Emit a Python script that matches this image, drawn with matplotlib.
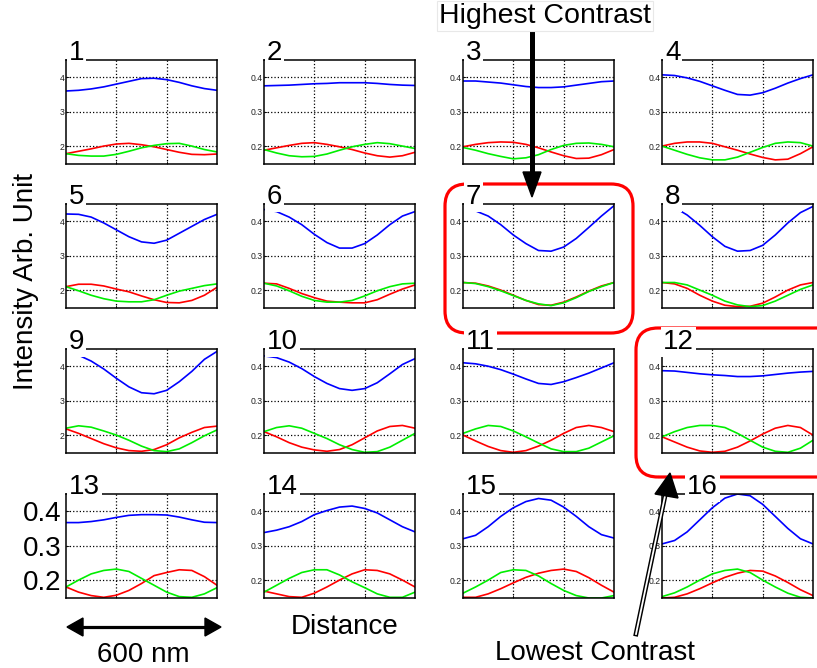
import matplotlib
matplotlib.use("Agg")
import matplotlib.pyplot as plt
import numpy as np
from matplotlib.patches import FancyBboxPatch, Polygon
from matplotlib.lines import Line2D

plt.rcParams['font.family'] = ['Liberation Sans', 'DejaVu Sans']

W, H = 817, 668
nan = np.nan

# sample positions across the 600 nm window (grid lines at 4 and 8)
xpos = np.arange(13)
panel_ids = list(range(1, 17))
yticks = [0.2, 0.3, 0.4]
tick_labels = ["0.2", "0.3", "0.4"]
cut_labels = ["2", "3", "4"]       # panels 1, 5, 9 show clipped labels

blue = [
    [0.360, 0.362, 0.366, 0.372, 0.380, 0.388, 0.396, 0.397, 0.393, 0.385, 0.375, 0.367, 0.362],
    [0.375, 0.376, 0.377, 0.379, 0.381, 0.382, 0.384, 0.384, 0.384, 0.382, 0.379, 0.377, 0.376],
    [0.389, 0.389, 0.386, 0.383, 0.378, 0.373, 0.370, 0.370, 0.372, 0.377, 0.382, 0.387, 0.389],
    [0.407, 0.405, 0.398, 0.388, 0.375, 0.362, 0.350, 0.348, 0.355, 0.368, 0.383, 0.396, 0.407],
    [0.421, 0.420, 0.412, 0.395, 0.375, 0.355, 0.340, 0.336, 0.345, 0.365, 0.385, 0.405, 0.420],
    [0.434, 0.428, 0.412, 0.390, 0.362, 0.338, 0.322, 0.322, 0.335, 0.360, 0.390, 0.415, 0.428],
    [nan,   0.430, 0.415, 0.390, 0.360, 0.335, 0.315, 0.313, 0.325, 0.350, 0.382, 0.415, 0.445],
    [nan,   0.440, 0.418, 0.388, 0.355, 0.327, 0.313, 0.315, 0.330, 0.360, 0.395, 0.425, 0.443],
    [nan,   0.432, 0.415, 0.392, 0.365, 0.340, 0.323, 0.320, 0.330, 0.355, 0.385, 0.420, 0.443],
    [0.430, 0.425, 0.412, 0.393, 0.370, 0.350, 0.335, 0.330, 0.335, 0.352, 0.378, 0.405, 0.422],
    [0.410, 0.407, 0.400, 0.390, 0.377, 0.363, 0.350, 0.347, 0.355, 0.367, 0.380, 0.395, 0.410],
    [0.387, 0.386, 0.382, 0.378, 0.375, 0.373, 0.370, 0.370, 0.372, 0.376, 0.380, 0.383, 0.385],
    [0.367, 0.367, 0.370, 0.375, 0.382, 0.388, 0.390, 0.390, 0.389, 0.383, 0.375, 0.368, 0.367],
    [0.338, 0.345, 0.355, 0.370, 0.390, 0.402, 0.412, 0.415, 0.408, 0.395, 0.375, 0.355, 0.340],
    [0.320, 0.330, 0.355, 0.385, 0.410, 0.428, 0.437, 0.432, 0.412, 0.385, 0.355, 0.332, 0.322],
    [0.305, 0.315, 0.340, 0.375, 0.410, 0.438, 0.450, 0.445, 0.420, 0.385, 0.350, 0.320, 0.305],
]

red = [
    [0.178, 0.185, 0.192, 0.200, 0.206, 0.208, 0.204, 0.198, 0.190, 0.182, 0.176, 0.175, 0.177],
    [0.188, 0.195, 0.202, 0.208, 0.210, 0.205, 0.198, 0.190, 0.180, 0.172, 0.168, 0.172, 0.182],
    [0.198, 0.205, 0.210, 0.212, 0.211, 0.205, 0.195, 0.183, 0.172, 0.164, 0.165, 0.175, 0.190],
    [0.200, 0.208, 0.212, 0.212, 0.208, 0.198, 0.188, 0.177, 0.167, 0.160, 0.162, 0.178, 0.198],
    [0.210, 0.217, 0.217, 0.212, 0.203, 0.195, 0.183, 0.172, 0.164, 0.163, 0.170, 0.185, 0.208],
    [0.220, 0.218, 0.205, 0.190, 0.178, 0.168, 0.165, 0.163, 0.163, 0.172, 0.188, 0.203, 0.215],
    [0.222, 0.220, 0.212, 0.200, 0.185, 0.170, 0.158, 0.156, 0.165, 0.180, 0.197, 0.212, 0.222],
    [0.222, 0.218, 0.205, 0.185, 0.168, 0.156, 0.152, 0.153, 0.162, 0.180, 0.200, 0.215, 0.222],
    [0.218, 0.205, 0.190, 0.175, 0.163, 0.155, 0.153, 0.158, 0.172, 0.192, 0.208, 0.222, 0.226],
    [0.210, 0.195, 0.178, 0.165, 0.157, 0.153, 0.158, 0.172, 0.192, 0.212, 0.225, 0.228, 0.220],
    [0.200, 0.183, 0.167, 0.155, 0.150, 0.155, 0.168, 0.185, 0.205, 0.222, 0.228, 0.222, 0.210],
    [0.195, 0.180, 0.165, 0.154, 0.150, 0.153, 0.165, 0.183, 0.203, 0.220, 0.228, 0.222, 0.200],
    [0.180, 0.165, 0.155, 0.150, 0.156, 0.170, 0.190, 0.213, 0.222, 0.230, 0.228, 0.210, 0.185],
    [0.168, 0.160, 0.152, 0.150, 0.162, 0.180, 0.200, 0.218, 0.230, 0.228, 0.218, 0.200, 0.180],
    [0.150, 0.150, 0.160, 0.175, 0.192, 0.208, 0.220, 0.228, 0.232, 0.225, 0.207, 0.185, 0.165],
    [0.148, 0.150, 0.160, 0.175, 0.192, 0.208, 0.220, 0.228, 0.226, 0.212, 0.193, 0.172, 0.155],
]

green = [
    [0.178, 0.173, 0.171, 0.171, 0.176, 0.185, 0.195, 0.202, 0.207, 0.208, 0.200, 0.190, 0.183],
    [0.190, 0.180, 0.172, 0.169, 0.170, 0.177, 0.188, 0.198, 0.205, 0.210, 0.207, 0.200, 0.193],
    [0.196, 0.188, 0.178, 0.170, 0.163, 0.166, 0.175, 0.190, 0.202, 0.208, 0.209, 0.205, 0.198],
    [0.200, 0.188, 0.176, 0.166, 0.160, 0.160, 0.168, 0.182, 0.196, 0.208, 0.212, 0.210, 0.200],
    [0.210, 0.198, 0.185, 0.175, 0.168, 0.166, 0.166, 0.172, 0.185, 0.197, 0.205, 0.213, 0.218],
    [0.220, 0.212, 0.198, 0.182, 0.170, 0.165, 0.165, 0.170, 0.183, 0.198, 0.210, 0.218, 0.220],
    [0.222, 0.219, 0.210, 0.198, 0.184, 0.170, 0.160, 0.155, 0.163, 0.178, 0.196, 0.210, 0.222],
    [0.222, 0.222, 0.215, 0.200, 0.185, 0.168, 0.157, 0.152, 0.155, 0.168, 0.185, 0.202, 0.215],
    [0.220, 0.227, 0.223, 0.212, 0.200, 0.185, 0.168, 0.155, 0.152, 0.160, 0.178, 0.198, 0.215],
    [0.210, 0.222, 0.227, 0.220, 0.205, 0.190, 0.172, 0.158, 0.150, 0.152, 0.165, 0.185, 0.205],
    [0.205, 0.218, 0.228, 0.225, 0.212, 0.195, 0.177, 0.160, 0.152, 0.152, 0.162, 0.180, 0.198],
    [0.195, 0.210, 0.222, 0.228, 0.228, 0.222, 0.205, 0.185, 0.165, 0.153, 0.150, 0.162, 0.185],
    [0.180, 0.200, 0.218, 0.228, 0.232, 0.225, 0.205, 0.185, 0.165, 0.152, 0.150, 0.160, 0.178],
    [0.165, 0.185, 0.205, 0.222, 0.230, 0.230, 0.215, 0.195, 0.178, 0.160, 0.150, 0.150, 0.165],
    [0.162, 0.180, 0.200, 0.222, 0.230, 0.228, 0.212, 0.190, 0.170, 0.155, 0.148, 0.148, 0.155],
    [0.152, 0.163, 0.180, 0.200, 0.218, 0.228, 0.232, 0.222, 0.200, 0.180, 0.162, 0.150, 0.148],
]

# layout in pixels of the 817x668 picture
col_left = [66, 264, 463, 662]
row_top = [60, 204, 349, 494]
AX_W, AX_H = 151, 104


def P(x, y):
    # pixel (from top-left) -> inches for fig.dpi_scale_trans
    return (x / 100.0, (H - y) / 100.0)


fig = plt.figure(figsize=(W / 100, H / 100), dpi=100)
T = fig.dpi_scale_trans

for i, n in enumerate(panel_ids):
    r, c = divmod(i, 4)
    l, t = col_left[c], row_top[r]
    ax = fig.add_axes([l / W, 1 - (t + AX_H) / H, AX_W / W, AX_H / H])
    ax.plot(xpos, blue[i], color="#0000ff", lw=1.2)
    ax.plot(xpos, red[i], color="#ff0000", lw=1.2)
    ax.plot(xpos, green[i], color="#00ee00", lw=1.2)
    ax.set_xlim(0, 12)
    ax.set_ylim(0.148, 0.45)
    ax.set_xticks([4, 8])
    ax.set_xticklabels([])
    ax.set_yticks(yticks)
    ax.grid(True, color="k", ls=":", lw=0.9)
    ax.tick_params(direction="in", length=2, width=0.6, labelsize=6.2,
                   pad=1, labelcolor="#222222")
    for s in ax.spines.values():
        s.set_linewidth(1.1)
    if n in (1, 5, 9):
        ax.set_yticklabels(cut_labels)
    elif n == 13:
        ax.set_yticklabels(tick_labels, fontsize=20, color="k")
        ax.tick_params(axis="y", pad=3)
    else:
        ax.set_yticklabels(tick_labels)

    lx = l + 3
    if n == 12:
        lx = l + 1
    if n == 16:
        lx = 687
    fig.text(*P(lx, t), str(n), transform=T, fontsize=20, ha="left",
             va="baseline", zorder=5,
             bbox=dict(facecolor="white", edgecolor="none", pad=1.5))

# red rounded frames around panel 7 and panel 12
for (x0, y0, x1, y1) in [(445, 184, 633, 333), (636, 328, 850, 477)]:
    bx, by = P(x0, y1)
    fig.add_artist(FancyBboxPatch((bx, by), (x1 - x0) / 100, (y1 - y0) / 100,
                                  boxstyle="round,pad=0,rounding_size=0.22",
                                  transform=T, fill=False, edgecolor="#ff0000",
                                  lw=2.3, zorder=2))

# Highest contrast arrow
fig.add_artist(Line2D(*zip(P(532, 30), P(532, 178)), transform=T,
                      color="k", lw=3.6, zorder=4))
fig.add_artist(Polygon([P(532, 197), P(523, 172), P(541, 172)], closed=True,
                       transform=T, facecolor="k", edgecolor="k", zorder=4))
fig.text(*P(545, 16), "Highest Contrast", transform=T, fontsize=20.5,
         ha="center", va="center", zorder=6,
         bbox=dict(facecolor="white", edgecolor="#e8e8e8", lw=0.8, pad=1.5))

# Lowest contrast hollow arrow
fig.add_artist(Line2D(*zip(P(636, 634), P(665, 496)), transform=T,
                      color="k", lw=3.4, zorder=6))
fig.add_artist(Line2D(*zip(P(636, 634), P(665, 496)), transform=T,
                      color="white", lw=1.3, zorder=6))
fig.add_artist(Polygon([P(670, 473), P(655, 494), P(678, 498)], closed=True,
                       transform=T, facecolor="k", edgecolor="k", zorder=6))
fig.text(*P(595, 653), "Lowest Contrast", transform=T, fontsize=20,
         ha="center", va="center")

# scale arrow
fig.add_artist(Line2D(*zip(P(80, 627), P(208, 627)), transform=T,
                      color="k", lw=2.3))
fig.add_artist(Polygon([P(67, 627), P(83, 618), P(83, 636)], closed=True,
                       transform=T, facecolor="k", edgecolor="k"))
fig.add_artist(Polygon([P(221, 627), P(205, 618), P(205, 636)], closed=True,
                       transform=T, facecolor="k", edgecolor="k"))
fig.text(*P(143, 655), "600 nm", transform=T, fontsize=20,
         ha="center", va="center")

fig.text(*P(345, 627), "Distance", transform=T, fontsize=20,
         ha="center", va="center")
fig.text(*P(26, 282), "Intensity Arb. Unit", transform=T, fontsize=20,
         ha="center", va="center", rotation=90)

fig.savefig("out.png", dpi=100)
